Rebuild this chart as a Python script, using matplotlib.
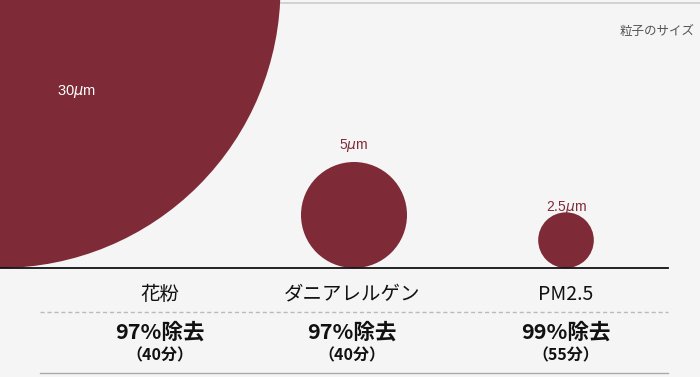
import numpy as np
import matplotlib.pyplot as plt
from matplotlib.patches import Circle

plt.rcParams['font.family'] = ['Liberation Sans', 'Noto Sans CJK JP', 'DejaVu Sans']

# data
categories = ['花粉', 'ダニアレルゲン', 'PM2.5']
sizes_um = [30, 5, 2.5]
size_labels = ['30$\\mu$m', '5$\\mu$m', '2.5$\\mu$m']
removal = ['97%除去', '97%除去', '99%除去']
minutes = ['（40分）', '（40分）', '（55分）']

RED = '#7e2b37'
BG = '#f5f5f5'

fig = plt.figure(figsize=(7, 3.77), dpi=100)
fig.patch.set_facecolor(BG)
ax = fig.add_axes([0, 0, 1, 1])
ax.set_facecolor(BG)
ax.set_xlim(0, 700)
ax.set_ylim(377, 0)
ax.axis('off')

base_y = 268
circle_x = [0, 354, 566]
col_x = [160, 352, 566]
label_gap = [0, 16, 5]


def radius(s):
    # power scale, 5um -> 53 px
    return 53 * (s / 5) ** 0.93


# top border
ax.plot([0, 700], [2.5, 2.5], color='#cccccc', lw=1.2)

for i, s in enumerate(sizes_um):
    r = radius(s)
    ax.add_patch(Circle((circle_x[i], base_y - r), r, color=RED, lw=0, zorder=2))

# size labels
ax.text(76, 92, size_labels[0], color='white', fontsize=10.5, ha='center', va='center', zorder=3)
for i in (1, 2):
    r = radius(sizes_um[i])
    ax.text(circle_x[i], base_y - 2 * r - label_gap[i], size_labels[i], color=RED,
            fontsize=10, ha='center', va='center', zorder=3)

ax.text(695, 31, '粒子のサイズ', color='#555555', fontsize=9, ha='right', va='center',
        family=['Noto Sans CJK JP', 'DejaVu Sans'])

# baseline and table lines
ax.plot([0, 668], [base_y, base_y], color='#111111', lw=1.3, zorder=4)
ax.plot([40, 668], [312, 312], color='#bbbbbb', lw=1, ls=(0, (3, 2)))
ax.plot([40, 668], [373, 373], color='#aaaaaa', lw=1)

jp = ['Noto Sans CJK JP', 'DejaVu Sans']
for i, c in enumerate(categories):
    ax.text(col_x[i], 294, c, fontsize=14, ha='center', va='center', color='#111111', family=jp)
    ax.text(col_x[i], 332, removal[i], fontsize=15.5, fontweight='bold', ha='center',
            va='center', color='#111111', family=jp)
    ax.text(col_x[i], 355, minutes[i], fontsize=11.5, fontweight='bold', ha='center',
            va='center', color='#111111', family=jp)

fig.savefig('out.png', dpi=100, facecolor=BG)
